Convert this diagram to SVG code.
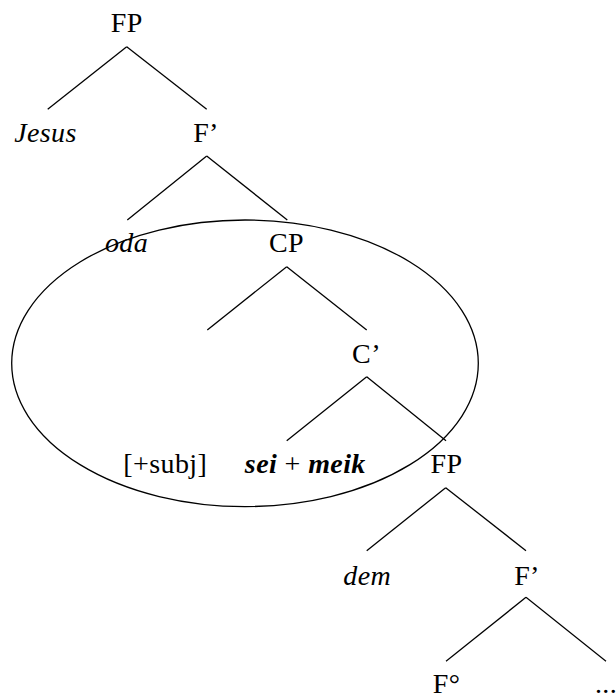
<svg xmlns="http://www.w3.org/2000/svg" width="616" height="699" viewBox="0 0 616 699">
<style>
text{font-family:'Liberation Serif','Times New Roman',serif;font-size:28px;letter-spacing:0.4px;fill:#000;text-anchor:middle}
.i{font-style:italic}
.b{font-weight:bold;font-style:italic}
line,ellipse{stroke:#000;stroke-width:1.3;fill:none}
</style>
<rect width="616" height="699" fill="#fff"/>
<g id="connectors">
<line x1="126.7" y1="46.7" x2="47.7" y2="109.3"/>
<line x1="126.7" y1="46.7" x2="206.7" y2="109.3"/>
<line x1="206.7" y1="156" x2="127.3" y2="220"/>
<line x1="206.7" y1="156" x2="287.3" y2="220"/>
<line x1="286.7" y1="266.7" x2="207.3" y2="330"/>
<line x1="286.7" y1="266.7" x2="366.7" y2="330"/>
<line x1="366.7" y1="376.7" x2="286.7" y2="440.7"/>
<line x1="366.7" y1="376.7" x2="446" y2="440.7"/>
<line x1="445.7" y1="487.7" x2="366.7" y2="550.7"/>
<line x1="445.7" y1="487.7" x2="526" y2="550.7"/>
<line x1="526" y1="597.3" x2="446" y2="661.3"/>
<line x1="526" y1="597.3" x2="606" y2="661.3"/>
</g>
<g id="ellipse"><ellipse cx="245" cy="363.3" rx="233.3" ry="143.3"/></g>
<g id="n-fp1"><text x="126.7" y="31.5">FP</text></g>
<g id="n-jesus"><text class="i" x="45.5" y="141.7">Jesus</text></g>
<g id="n-fbar1"><text x="206" y="141.7">F’</text></g>
<g id="n-oda"><text class="i" x="126.5" y="251.7">oda</text></g>
<g id="n-cp"><text x="286.5" y="251.7">CP</text></g>
<g id="n-cbar"><text x="366.5" y="362.7">C’</text></g>
<g id="n-subj"><text x="165.3" y="473.3">[+subj]</text></g>
<g id="n-seimeik"><text x="305.3" y="473.3"><tspan class="b">sei</tspan> + <tspan class="b">meik</tspan></text></g>
<g id="n-fp2"><text x="446.5" y="473.3">FP</text></g>
<g id="n-dem"><text class="i" x="367.2" y="585">dem</text></g>
<g id="n-fbar2"><text x="527" y="585">F’</text></g>
<g id="n-f0"><text x="446.5" y="692.5">F°</text></g>
<g id="n-dots"><text x="606" y="692.5">...</text></g>
</svg>
